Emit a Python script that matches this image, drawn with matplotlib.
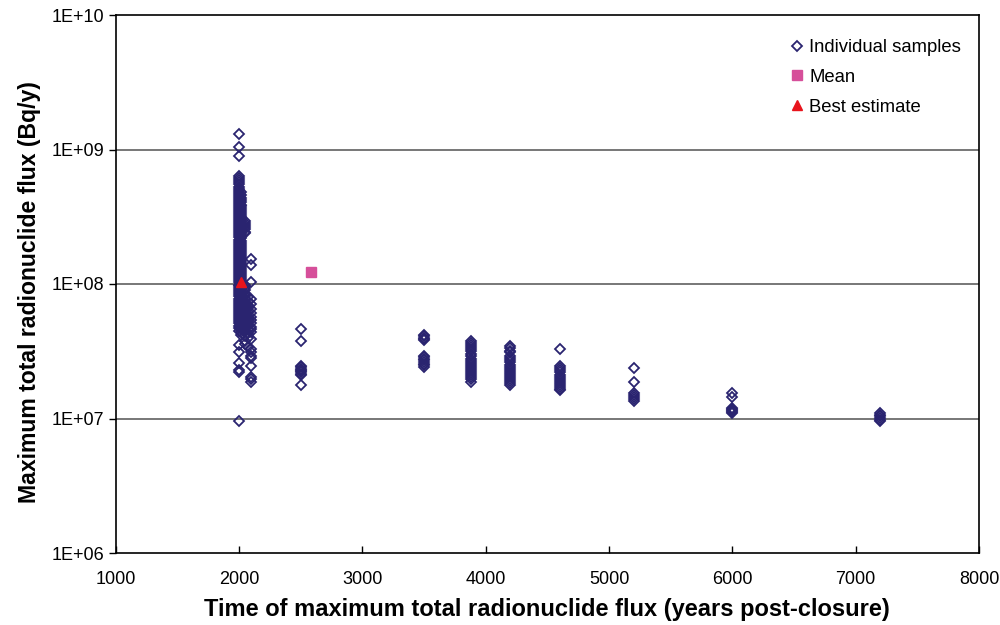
import matplotlib
matplotlib.use("Agg")
import matplotlib.pyplot as plt
from matplotlib.ticker import FixedLocator, FuncFormatter, NullLocator
import numpy as np

plt.rcParams['font.family'] = ['Liberation Sans', 'DejaVu Sans']

# sampled runs: time of peak flux (years) -> peak flux values (Bq/y)
times = [2000, 2020, 2050, 2070, 2100, 2500, 3500, 3880, 4200, 4600, 5200, 6000, 7200]
flux = [
    # 2000
    [1.31e9, 1.04e9, 8.9e8,
     6.3e8, 6.1e8, 5.9e8, 5.7e8, 5.5e8, 5.3e8, 5.1e8, 4.9e8, 4.75e8, 4.6e8, 4.45e8,
     4.3e8, 4.15e8, 4.0e8, 3.85e8, 3.72e8, 3.6e8, 3.48e8, 3.36e8, 3.25e8, 3.14e8,
     3.03e8, 2.93e8, 2.83e8, 2.73e8, 2.64e8, 2.55e8, 2.46e8, 2.38e8, 2.3e8, 2.22e8,
     2.14e8, 2.07e8, 2.0e8, 1.93e8, 1.86e8, 1.8e8, 1.74e8, 1.68e8, 1.62e8, 1.56e8,
     1.51e8, 1.46e8, 1.41e8, 1.36e8, 1.31e8, 1.27e8, 1.23e8, 1.19e8, 1.15e8, 1.11e8,
     1.07e8, 1.03e8, 9.9e7, 9.6e7, 9.3e7, 9.0e7, 8.7e7, 8.4e7, 8.1e7, 7.8e7, 7.5e7,
     7.25e7, 7.0e7, 6.75e7, 6.5e7, 6.3e7, 6.1e7, 5.9e7, 5.7e7, 5.5e7, 5.3e7, 5.1e7,
     4.9e7, 4.7e7, 4.5e7,
     3.5e7, 3.1e7, 2.6e7, 2.3e7, 2.2e7, 9.6e6],
    # 2020
    [4.8e8, 4.55e8, 4.35e8, 4.2e8, 4.05e8, 3.9e8, 3.78e8, 3.66e8, 3.54e8, 3.42e8,
     3.3e8, 3.2e8, 3.08e8, 2.98e8, 2.88e8, 2.78e8, 2.68e8, 2.6e8, 2.5e8, 2.42e8,
     2.34e8, 2.26e8, 2.18e8, 2.1e8, 2.03e8, 1.96e8, 1.9e8, 1.83e8, 1.77e8, 1.71e8,
     1.65e8, 1.59e8, 1.54e8, 1.49e8, 1.44e8, 1.39e8, 1.34e8, 1.29e8, 1.25e8, 1.21e8,
     1.17e8, 1.13e8, 1.09e8, 1.05e8, 1.01e8, 9.75e7, 9.45e7, 9.15e7, 8.85e7, 8.55e7,
     8.25e7, 7.95e7, 7.65e7, 7.4e7, 7.15e7, 6.9e7, 6.65e7, 6.4e7, 6.2e7, 6.0e7,
     5.8e7, 5.6e7, 5.4e7, 5.2e7, 5.0e7, 4.8e7, 4.6e7, 4.4e7, 4.2e7],
    # 2050
    [2.95e8, 2.85e8, 2.75e8, 2.65e8, 2.55e8, 2.45e8, 2.38e8,
     9.8e7, 9.4e7, 9.0e7, 8.6e7, 8.2e7, 7.8e7, 7.4e7, 7.1e7, 6.8e7, 6.5e7, 6.2e7,
     5.9e7, 5.6e7, 5.3e7, 5.0e7, 4.7e7, 4.4e7, 4.1e7, 3.8e7, 3.6e7],
    # 2070
    [8.0e7, 7.5e7, 7.0e7, 6.6e7, 6.2e7, 5.8e7, 5.5e7, 5.2e7, 4.9e7, 4.6e7, 4.3e7,
     4.0e7, 3.4e7],
    # 2100
    [1.53e8, 1.39e8, 1.03e8, 7.7e7, 7.1e7, 6.5e7, 6.1e7, 5.7e7, 5.4e7, 5.1e7, 4.8e7,
     4.6e7, 4.4e7, 3.9e7, 3.3e7, 3.1e7, 2.9e7, 2.8e7, 2.47e7, 2.03e7, 1.95e7, 1.87e7],
    # 2500
    [4.6e7, 3.77e7, 2.45e7, 2.4e7, 2.35e7, 2.3e7, 2.25e7, 2.2e7, 2.15e7, 2.1e7, 1.77e7],
    # 3500
    [4.2e7, 4.1e7, 4.0e7, 3.92e7, 3.83e7, 2.92e7, 2.85e7, 2.78e7, 2.7e7, 2.62e7,
     2.55e7, 2.48e7, 2.43e7],
    # 3880
    [3.75e7, 3.62e7, 3.5e7, 3.38e7, 3.26e7, 3.15e7, 3.04e7, 2.94e7, 2.78e7, 2.68e7,
     2.59e7, 2.5e7, 2.42e7, 2.34e7, 2.26e7, 2.18e7, 2.1e7, 2.03e7, 1.96e7, 1.88e7],
    # 4200
    [3.44e7, 3.32e7, 3.2e7, 3.1e7, 2.9e7, 2.8e7, 2.7e7, 2.61e7, 2.52e7, 2.43e7,
     2.35e7, 2.27e7, 2.19e7, 2.11e7, 2.04e7, 1.97e7, 1.9e7, 1.83e7, 1.77e7],
    # 4600
    [3.29e7, 2.44e7, 2.36e7, 2.28e7, 2.2e7, 2.12e7, 2.05e7, 1.98e7, 1.91e7, 1.84e7,
     1.78e7, 1.72e7, 1.67e7, 1.63e7],
    # 5200
    [2.37e7, 1.88e7, 1.54e7, 1.49e7, 1.44e7, 1.39e7, 1.34e7],
    # 6000
    [1.56e7, 1.44e7, 1.2e7, 1.18e7, 1.16e7, 1.14e7, 1.12e7, 1.09e7],
    # 7200
    [1.10e7, 1.07e7, 1.04e7, 1.01e7, 9.8e6, 9.5e6],
]

mean_time, mean_flux = 2580, 1.23e8
best_time, best_flux = 2015, 1.04e8

ytick_vals = [1e6, 1e7, 1e8, 1e9, 1e10]

navy = '#2a2470'

fig = plt.figure(figsize=(10, 6.25), dpi=100)
ax = fig.add_axes([0.1157, 0.1152, 0.979 - 0.1157, 0.976 - 0.1152])

xs = np.concatenate([[t] * len(f) for t, f in zip(times, flux)])
ys = np.concatenate([np.array(f) for f in flux])
ax.plot(xs, ys, linestyle='none', marker='D', markersize=5.0,
        markerfacecolor='none', markeredgecolor=navy, markeredgewidth=1.3,
        label='Individual samples', zorder=3)
ax.plot([mean_time], [mean_flux], linestyle='none', marker='s', markersize=6.5,
        color='#d64f9a', label='Mean', zorder=4)
ax.plot([best_time], [best_flux], linestyle='none', marker='^', markersize=7.5,
        color='#e8141c', label='Best estimate', zorder=5)

ax.set_yscale('log')
ax.set_xlim(1000, 8000)
ax.set_ylim(1e6, 1e10)
ax.yaxis.set_major_locator(FixedLocator(ytick_vals))
ax.yaxis.set_minor_locator(NullLocator())
ax.yaxis.set_major_formatter(FuncFormatter(lambda v, p: "1E+%02d" % round(np.log10(v))))
ax.set_xticks(range(1000, 8001, 1000))

for v in ytick_vals[1:-1]:
    ax.axhline(v, color='#606060', linewidth=1.2, zorder=1)

for s in ax.spines.values():
    s.set_color('black')
    s.set_linewidth(1.2)

ax.tick_params(axis='y', direction='out', length=5, width=1.0, labelsize=13, pad=3)
ax.tick_params(axis='x', direction='in', length=5, width=1.0, labelsize=13, pad=13)

ax.set_xlabel('Time of maximum total radionuclide flux (years post-closure)',
              fontsize=17, fontweight='bold', labelpad=7)
ax.set_ylabel('Maximum total radionuclide flux (Bq/y)',
              fontsize=16.6, fontweight='bold', labelpad=8)
ax.yaxis.set_label_coords(-0.087, 0.485)

ax.legend(loc='upper right', frameon=False, fontsize=13.3, handlelength=0.7,
          handletextpad=0.3, labelspacing=0.7, borderaxespad=0.9,
          bbox_to_anchor=(1.007, 1.0))

fig.savefig('out.png', dpi=100)
